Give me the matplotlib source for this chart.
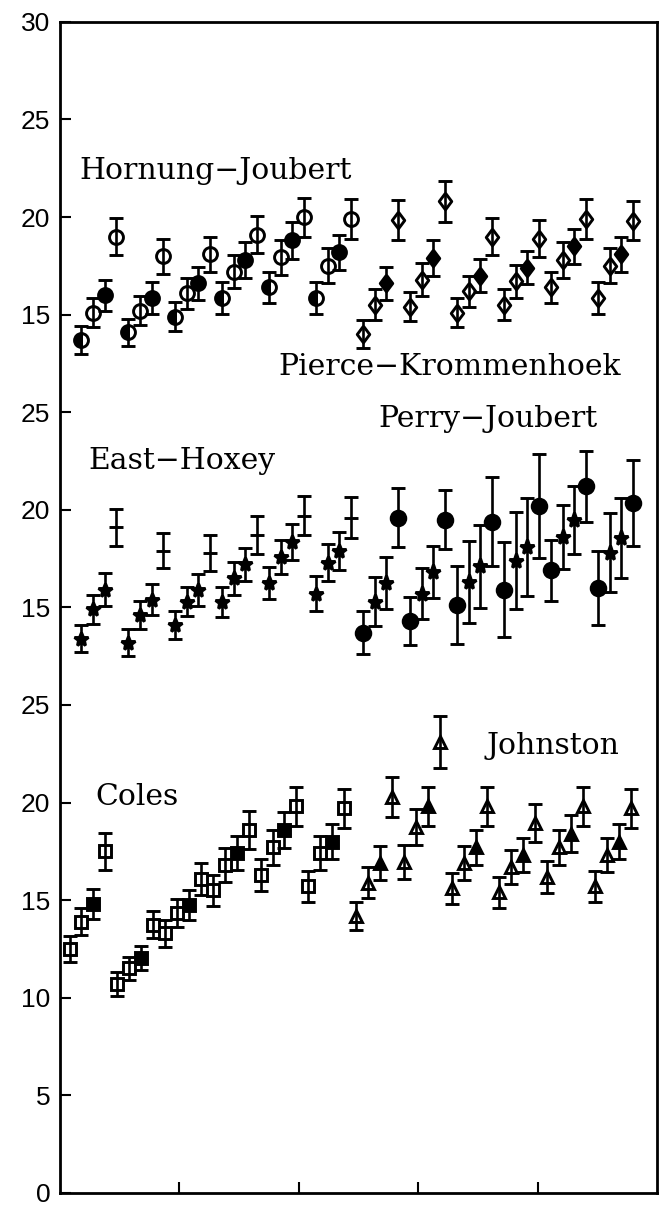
import matplotlib.pyplot as plt
import numpy as np

# ---- data: each panel has 48 runs, grouped in fours ----
# top panel (plotted with +30 offset)
hornung_joubert = [13.7, 15.1, 16.0, 19.0, 14.1, 15.2, 15.85, 18.0,
                   14.9, 16.1, 16.6, 18.1, 15.85, 17.2, 17.8, 19.1,
                   16.4, 17.95, 18.8, 20.0, 15.85, 17.5, 18.2, 19.9]
hornung_joubert_err = [0.7, 0.75, 0.8, 0.95, 0.7, 0.75, 0.8, 0.9,
                       0.75, 0.8, 0.85, 0.9, 0.8, 0.85, 0.9, 0.95,
                       0.8, 0.9, 0.95, 1.0, 0.8, 0.9, 0.9, 1.0]
pierce_krommenhoek = [14.0, 15.5, 16.6, 19.85, 15.4, 16.8, 17.9, 20.8,
                      15.1, 16.2, 17.0, 19.0, 15.5, 16.7, 17.4, 18.9,
                      16.4, 17.8, 18.5, 19.9, 15.85, 17.5, 18.1, 19.8]
pierce_krommenhoek_err = [0.7, 0.8, 0.85, 1.0, 0.75, 0.85, 0.9, 1.05,
                          0.75, 0.8, 0.85, 0.95, 0.8, 0.85, 0.85, 0.95,
                          0.8, 0.9, 0.9, 1.0, 0.8, 0.9, 0.9, 1.0]

# middle panel (+15 offset)
east_hoxey = [13.4, 14.9, 15.9, 19.1, 13.2, 14.6, 15.4, 17.9,
              14.1, 15.3, 15.9, 17.8, 15.3, 16.5, 17.2, 18.7,
              16.25, 17.6, 18.35, 19.7, 15.7, 17.3, 17.9, 19.6]
east_hoxey_err = [0.7, 0.75, 0.84, 0.94, 0.7, 0.71, 0.79, 0.9,
                  0.71, 0.76, 0.83, 0.91, 0.77, 0.84, 0.85, 0.96,
                  0.83, 0.87, 0.94, 1.0, 0.9, 0.95, 0.96, 1.05]
perry_joubert = [13.7, 15.3, 16.25, 19.6, 14.3, 15.7, 16.8, 19.5,
                 15.1, 16.3, 17.1, 19.4, 15.9, 17.4, 18.1, 20.2,
                 16.9, 18.6, 19.5, 21.2, 16.0, 17.8, 18.55, 20.35]
perry_joubert_err = [1.1, 1.25, 1.33, 1.53, 1.24, 1.3, 1.33, 1.52,
                     2.0, 2.08, 2.12, 2.26, 2.43, 2.5, 2.53, 2.65,
                     1.55, 1.64, 1.74, 1.81, 1.91, 2.03, 2.05, 2.19]

# bottom panel (no offset)
coles = [12.5, 13.9, 14.8, 17.5, 10.7, 11.5, 12.05, 13.75,
         13.3, 14.35, 14.75, 16.1, 15.5, 16.8, 17.4, 18.6,
         16.3, 17.7, 18.6, 19.8, 15.7, 17.4, 18.0, 19.7]
coles_err = [0.67, 0.7, 0.75, 0.94, 0.6, 0.6, 0.62, 0.7,
             0.68, 0.72, 0.75, 0.82, 0.78, 0.85, 0.88, 0.98,
             0.82, 0.9, 0.94, 1.0, 0.8, 0.88, 0.9, 1.0]
johnston = [14.2, 15.9, 16.9, 20.3, 16.95, 18.75, 19.8, 23.1,
            15.6, 16.9, 17.7, 19.8, 15.4, 16.7, 17.3, 18.95,
            16.2, 17.7, 18.4, 19.8, 15.7, 17.3, 18.0, 19.7]
johnston_err = [0.72, 0.8, 0.85, 1.02, 0.85, 0.94, 1.0, 1.35,
                0.8, 0.85, 0.9, 1.0, 0.78, 0.85, 0.87, 0.96,
                0.82, 0.9, 0.94, 1.0, 0.8, 0.87, 0.9, 1.0]

ytick_labels = ['0', '5', '10', '15', '20', '25',
                '15', '20', '25', '15', '20', '25', '30']

# run positions along the x axis
x_upper = np.linspace(1.76, 48.0, 48)
x_lower = np.linspace(0.8, 47.8, 48)

diamond = [(0, 1), (0.75, 0), (0, -1), (-0.75, 0), (0, 1)]

# marker style for the four runs of each group: (marker, fill, size)
styles = {
    'hj': [('o', 'left', 10), ('o', 'none', 10), ('o', 'full', 10), ('o', 'none', 10)],
    'pk': [(diamond, 'none', 12), (diamond, 'none', 12), (diamond, 'full', 12), (diamond, 'none', 12)],
    'eh': [('*', 'full', 10.5), ('*', 'full', 10.5), ('*', 'full', 10.5), ('_', 'full', 10)],
    'pj': [('o', 'full', 10.5), ('*', 'full', 11), ('*', 'full', 11), ('o', 'full', 10.5)],
    'co': [('s', 'none', 9), ('s', 'none', 9), ('s', 'full', 9), ('s', 'none', 9)],
    'jo': [('^', 'none', 8.5), ('^', 'none', 8.5), ('^', 'full', 8.5), ('^', 'none', 8.5)],
}


def plot_series(ax, x, y, err, offset, style):
    y = np.asarray(y) + offset
    err = np.asarray(err)
    for k, (marker, fill, ms) in enumerate(style):
        kw = dict(marker=marker, markersize=ms, color='black', linestyle='none',
                  ecolor='black', elinewidth=1.9, capsize=5, capthick=1.9,
                  markeredgewidth=2.1)
        if fill == 'none':
            kw['markerfacecolor'] = 'none'
        elif fill == 'left':
            kw['fillstyle'] = 'left'
            kw['markerfacecoloralt'] = 'none'
        ax.errorbar(x[k::4], y[k::4], yerr=err[k::4], **kw)


fig = plt.figure(figsize=(6.63, 12.16), dpi=100)
ax = fig.add_axes([0.0905, 0.019, 0.9005, 0.963])

plot_series(ax, x_upper[:24], hornung_joubert, hornung_joubert_err, 30, styles['hj'])
plot_series(ax, x_upper[24:], pierce_krommenhoek, pierce_krommenhoek_err, 30, styles['pk'])
plot_series(ax, x_upper[:24], east_hoxey, east_hoxey_err, 15, styles['eh'])
plot_series(ax, x_upper[24:], perry_joubert, perry_joubert_err, 15, styles['pj'])
plot_series(ax, x_lower[:24], coles, coles_err, 0, styles['co'])
plot_series(ax, x_lower[24:], johnston, johnston_err, 0, styles['jo'])

# panel names
tkw = dict(family='DejaVu Serif', fontsize=21.5, color='black', va='baseline')
ax.text(1.6, 51.95, 'Hornung\u2212Joubert', **tkw)
ax.text(18.3, 41.9, 'Pierce\u2212Krommenhoek', **tkw)
ax.text(2.4, 37.1, 'East\u2212Hoxey', **tkw)
ax.text(26.7, 39.25, 'Perry\u2212Joubert', **tkw)
ax.text(3.0, 19.85, 'Coles', **tkw)
ax.text(35.7, 22.5, 'Johnston', **tkw)

ax.set_xlim(0, 50)
ax.set_ylim(0, 60)
ax.set_xticks([10, 20, 30, 40])
ax.set_xticklabels([])
ax.set_yticks(np.arange(0, 61, 5))
ax.set_yticklabels(ytick_labels, family='Liberation Sans', fontsize=19)
ax.tick_params(axis='both', direction='in', length=8, width=1.5)
ax.tick_params(axis='y', pad=7)
for side in ['left', 'right', 'top', 'bottom']:
    ax.spines[side].set_linewidth(2)

fig.savefig('out.png', dpi=100)
